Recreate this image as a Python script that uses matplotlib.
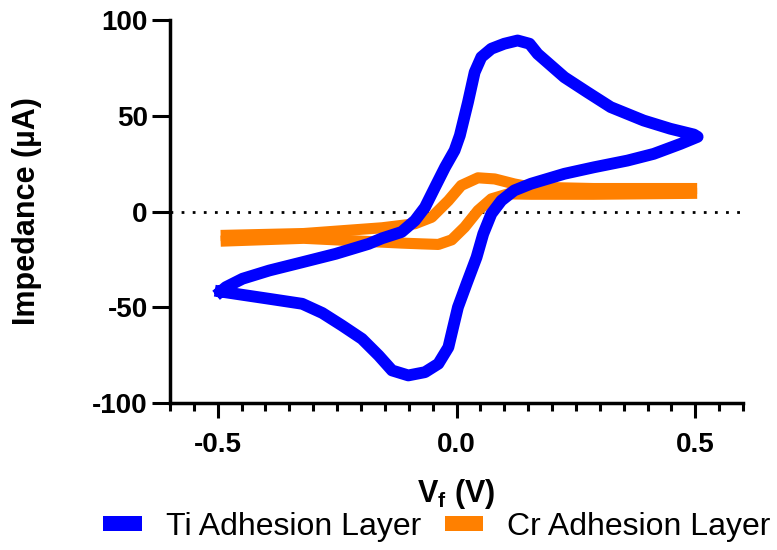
import matplotlib
matplotlib.use("Agg")
import matplotlib.pyplot as plt
from matplotlib.patches import Patch
from matplotlib.ticker import MultipleLocator

plt.rcParams['font.family'] = ['Liberation Sans', 'DejaVu Sans']
plt.rcParams['mathtext.fontset'] = 'custom'
plt.rcParams['mathtext.rm'] = 'Liberation Sans'
plt.rcParams['mathtext.bf'] = 'Liberation Sans:bold'
plt.rcParams['axes.unicode_minus'] = False

# Ti adhesion layer: forward scan (-0.5 -> 0.5) then reverse scan back (V, uA)
ti_v = [-0.494, -0.483, -0.448, -0.392, -0.323, -0.253, -0.184, -0.156, -0.115,
        -0.087, -0.066, -0.045, -0.024, -0.004, 0.007, 0.024, 0.038, 0.052,
        0.073, 0.100, 0.128, 0.153, 0.170, 0.198, 0.226, 0.274, 0.323, 0.392,
        0.448, 0.497, 0.505,
        0.469, 0.413, 0.358, 0.288, 0.226, 0.156, 0.121, 0.094, 0.073, 0.056,
        0.042, 0.021, 0.003, -0.007, -0.017, -0.038, -0.066, -0.101, -0.135,
        -0.163, -0.198, -0.240, -0.281, -0.323, -0.392, -0.462, -0.494]
ti_i = [-41.8, -39.5, -35.1, -30.8, -26.5, -22.1, -16.9, -14.0, -10.7,
        -4.7, 2.2, 12.7, 23.1, 31.9, 39.7, 57.0, 72.7, 80.6,
        85.0, 87.6, 89.3, 87.6, 82.3, 76.2, 70.1, 62.3, 54.5, 47.5,
        43.2, 40.2, 39.0,
        35.3, 30.1, 26.6, 23.1, 19.7, 14.5, 11.0, 5.7, -1.2, -11.7,
        -23.9, -37.8, -50.0, -60.4, -70.9, -79.5, -83.9, -85.6, -83.0,
        -75.2, -66.5, -59.5, -53.0, -48.2, -45.6, -43.0, -41.8]

# Cr adhesion layer, forward and reverse scans
cr_fwd_v = [-0.494, -0.32, -0.156, -0.087, -0.052, -0.017, 0.010, 0.045, 0.080,
            0.121, 0.156, 0.287, 0.504]
cr_fwd_i = [-12.5, -11.5, -8.5, -6.4, -3.0, 5.7, 13.6, 17.6, 17.0,
            14.4, 12.7, 12.0, 12.0]
cr_rev_v = [0.504, 0.287, 0.156, 0.108, 0.073, 0.045, 0.017, -0.010, -0.038,
            -0.073, -0.115, -0.156, -0.32, -0.494]
cr_rev_i = [9.5, 9.0, 9.0, 9.2, 6.6, 0.5, -8.2, -14.8, -17.2,
            -16.9, -16.5, -16.0, -14.0, -15.5]

blue = '#0000FF'
orange = '#FF8000'

fig = plt.figure(figsize=(7.77, 5.5), dpi=100)
ax = fig.add_axes([170/777, 147/550, 573/777, 383/550])

ax.axhline(0, color='black', lw=2, ls=(0, (1, 3)), zorder=1)
ax.plot(cr_fwd_v, cr_fwd_i, color=orange, lw=8, solid_capstyle='butt', zorder=2)
ax.plot(cr_rev_v, cr_rev_i, color=orange, lw=8, solid_capstyle='butt', zorder=2)
ax.plot(ti_v, ti_i, color=blue, lw=8.5, solid_joinstyle='round', zorder=3)

ax.set_xlim(-0.6, 0.6)
ax.set_ylim(-100, 100)
ax.set_xticks([-0.5, 0.0, 0.5])
ax.set_yticks([-100, -50, 0, 50, 100])
ax.xaxis.set_minor_locator(MultipleLocator(0.05))
ax.xaxis.set_major_formatter(plt.FuncFormatter(lambda v, p: f"{v:.1f}"))

for s in ['top', 'right']:
    ax.spines[s].set_visible(False)
for s in ['left', 'bottom']:
    ax.spines[s].set_linewidth(2.5)

ax.tick_params(axis='y', which='major', length=13, width=2.2, pad=3, labelsize=20)
ax.tick_params(axis='x', which='major', length=11, width=2.2, pad=10, labelsize=20)
ax.tick_params(axis='x', which='minor', length=6, width=2.2)
for lab in ax.get_xticklabels() + ax.get_yticklabels():
    lab.set_fontweight('bold')

ax.set_xlabel(r'V$_{\mathbf{f}}$ (V)', fontsize=22, fontweight='bold')
ax.set_ylabel('Impedance (µA)', fontsize=22, fontweight='bold')
ax.xaxis.set_label_coords(0.5, -0.193)
ax.yaxis.set_label_coords(-0.2234, 0.5)

handles = [Patch(facecolor=blue, edgecolor='none'),
           Patch(facecolor=orange, edgecolor='none')]
labels = ['Ti Adhesion Layer', 'Cr Adhesion Layer']
fig.legend(handles, labels, loc='center', bbox_to_anchor=(437/777, 1 - 527/550),
           ncol=2, frameon=False, fontsize=23, handlelength=1.2,
           handleheight=0.3, handletextpad=0.75, columnspacing=0.75)

fig.savefig('out.png', dpi=100)
